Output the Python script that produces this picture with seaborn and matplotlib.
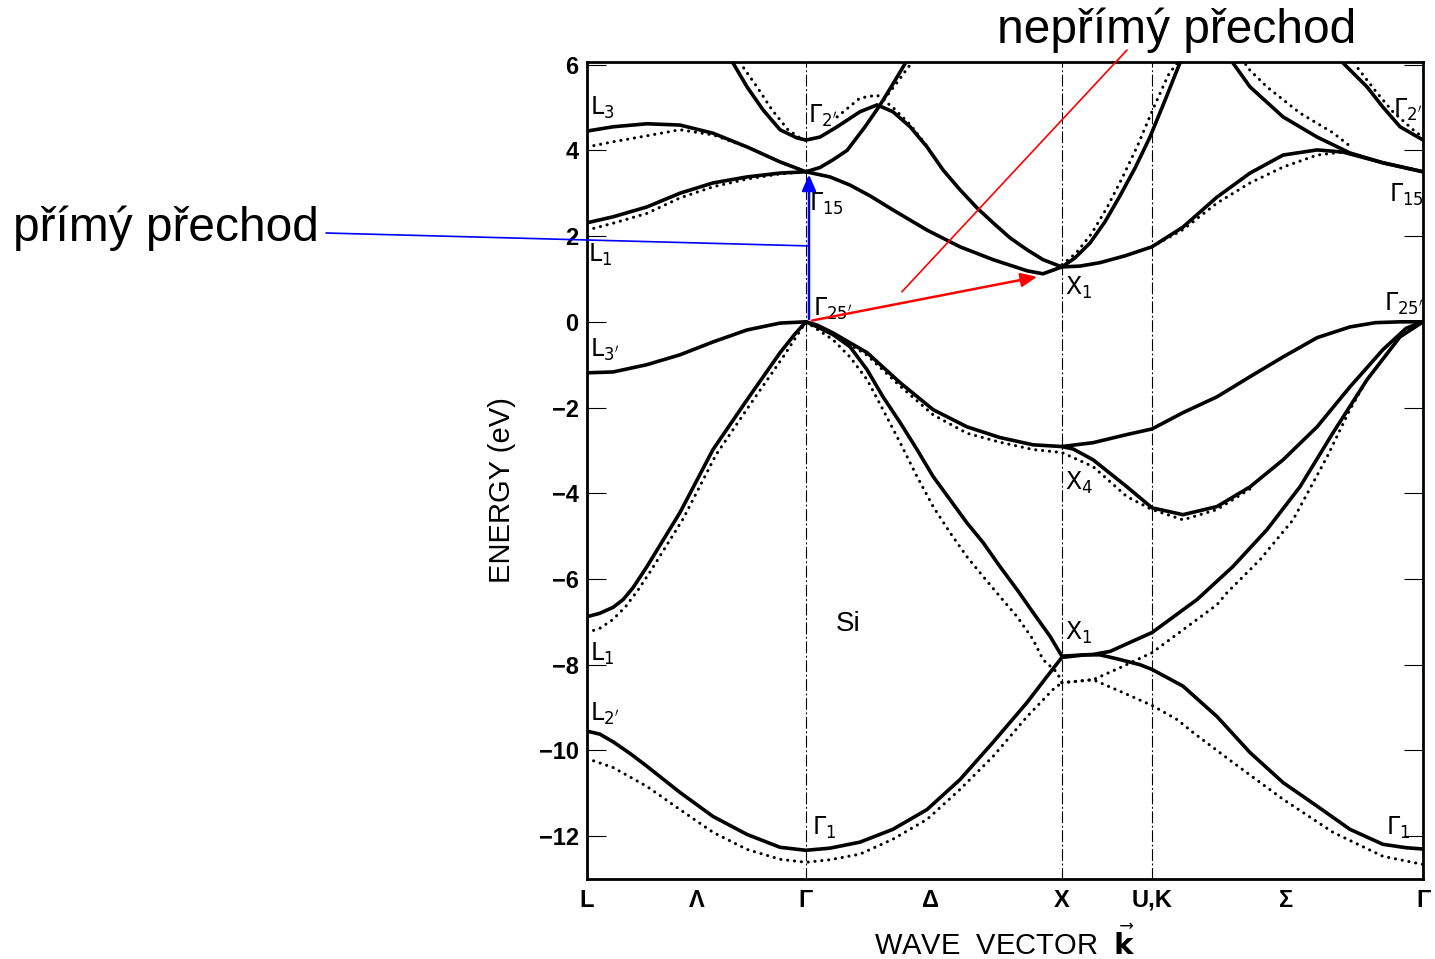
import numpy as np
import pandas as pd
import matplotlib
matplotlib.use("Agg")
import matplotlib.pyplot as plt
import seaborn as sns

sns.set_theme(style="ticks")
plt.rcParams["font.family"] = ["Liberation Sans", "DejaVu Sans"]
plt.rcParams.update({"text.color": "black", "axes.labelcolor": "black",
                     "xtick.color": "black", "ytick.color": "black",
                     "lines.dash_capstyle": "round", "lines.solid_capstyle": "round",
                     "lines.solid_joinstyle": "round"})

# ─── symmetry points along the k path (L - Γ - X - U,K - Γ) ───────
K_L, K_G, K_X, K_UK, K_G2 = 0.0, 0.855, 1.855, 2.207, 3.266
sym_pos = [0.0, 0.43, 0.855, 1.34, 1.855, 2.207, 2.73, 3.266]
sym_lab = ["L", "Λ", "Γ", "Δ", "X", "U,K", "Σ", "Γ"]

# ─── solid bands (k, energy in eV) ───────────────────────────────
low_k = [0, 0.05, 0.102, 0.17, 0.234, 0.363, 0.492, 0.625, 0.754, 0.855, 0.949, 1.066,
         1.195, 1.328, 1.457, 1.586, 1.719, 1.80, 1.855]
low_E = [-9.55, -9.62, -9.8, -10.08, -10.37, -10.98, -11.54, -11.96, -12.26, -12.33,
         -12.28, -12.14, -11.84, -11.38, -10.68, -9.81, -8.88, -8.25, -7.83]

low2_k = [1.855, 1.945, 2.004, 2.082, 2.160, 2.207, 2.328, 2.461, 2.590, 2.719, 2.852,
          2.980, 3.109, 3.20, 3.266]
low2_E = [-7.83, -7.77, -7.77, -7.88, -8.0, -8.11, -8.5, -9.21, -10.05, -10.75, -11.3,
          -11.84, -12.19, -12.27, -12.3]

val3_k = [0, 0.05, 0.102, 0.141, 0.18, 0.234, 0.363, 0.492, 0.625, 0.754, 0.81, 0.855,
          0.90, 0.961, 1.027, 1.094, 1.156, 1.223, 1.289, 1.352, 1.418, 1.484, 1.547,
          1.613, 1.680, 1.742, 1.809, 1.855, 1.977, 2.043, 2.121, 2.207, 2.383, 2.523,
          2.656, 2.785, 2.914, 3.047, 3.176, 3.266]
val3_E = [-6.88, -6.8, -6.66, -6.48, -6.2, -5.71, -4.45, -2.98, -1.82, -0.72, -0.3, 0.0,
          -0.12, -0.3, -0.58, -1.12, -1.75, -2.35, -2.98, -3.61, -4.15, -4.69, -5.15,
          -5.71, -6.25, -6.78, -7.34, -7.8, -7.76, -7.69, -7.48, -7.25, -6.48, -5.71,
          -4.85, -3.85, -2.59, -1.35, -0.35, 0.0]

val2_k = [0, 0.102, 0.234, 0.363, 0.492, 0.625, 0.754, 0.855, 0.90, 0.961, 1.094,
          1.223, 1.352, 1.484, 1.613, 1.742, 1.855, 1.90, 1.977, 2.109, 2.207, 2.328,
          2.461, 2.590, 2.719, 2.852, 2.980, 3.109, 3.20, 3.266]
val2_E = [-1.19, -1.17, -1.0, -0.77, -0.47, -0.19, -0.03, 0.0, -0.08, -0.26, -0.72,
          -1.42, -2.05, -2.45, -2.7, -2.87, -2.91, -2.97, -3.22, -3.85, -4.34, -4.5,
          -4.31, -3.85, -3.22, -2.45, -1.52, -0.65, -0.15, 0.0]

val1_k = [1.855, 1.977, 2.109, 2.207, 2.328, 2.461, 2.590, 2.719, 2.852, 2.980, 3.08,
          3.18, 3.266]
val1_E = [-2.91, -2.82, -2.63, -2.5, -2.12, -1.75, -1.28, -0.82, -0.37, -0.12, -0.02,
          0.0, 0.0]

con1_k = [0, 0.102, 0.234, 0.363, 0.492, 0.625, 0.754, 0.855, 0.949, 1.027, 1.105,
          1.195, 1.328, 1.457, 1.586, 1.719, 1.781, 1.855, 1.926, 2.004, 2.102, 2.207,
          2.328, 2.461, 2.590, 2.719, 2.852, 2.953, 3.109, 3.266]
con1_E = [2.31, 2.45, 2.68, 3.0, 3.24, 3.38, 3.47, 3.5, 3.38, 3.19, 2.94,
          2.61, 2.14, 1.75, 1.45, 1.19, 1.12, 1.28, 1.3, 1.38, 1.54, 1.75,
          2.21, 2.91, 3.47, 3.89, 4.01, 3.96, 3.71, 3.5]

con2_k = [0, 0.102, 0.234, 0.363, 0.492, 0.625, 0.754, 0.855, 0.910, 0.961, 1.016,
          1.086, 1.145, 1.195, 1.250, 1.29]
con2_E = [4.45, 4.55, 4.62, 4.59, 4.4, 4.08, 3.73, 3.5, 3.6, 3.78, 4.0,
          4.55, 5.06, 5.55, 6.1, 6.6]

con3_k = [0.539, 0.570, 0.625, 0.688, 0.754, 0.820, 0.855, 0.910, 0.977, 1.066, 1.133,
          1.195, 1.262, 1.328, 1.391, 1.457, 1.523, 1.586, 1.652, 1.719, 1.781, 1.855]
con3_E = [6.5, 6.04, 5.48, 4.94, 4.48, 4.29, 4.24, 4.31, 4.55, 4.9, 5.06,
          4.9, 4.55, 4.08, 3.54, 3.08, 2.66, 2.31, 1.96, 1.68, 1.45, 1.28]

con4_k = [1.855, 1.906, 1.965, 2.023, 2.082, 2.141, 2.199, 2.258, 2.316, 2.336]
con4_E = [1.28, 1.49, 1.84, 2.33, 2.94, 3.59, 4.31, 5.17, 6.04, 6.4]

con5_k = [2.492, 2.523, 2.590, 2.719, 2.852, 2.980, 3.109, 3.266]
con5_E = [6.5, 6.04, 5.48, 4.78, 4.31, 3.94, 3.71, 3.5]

con6_k = [2.922, 2.953, 3.047, 3.109, 3.176, 3.266]
con6_E = [6.4, 6.04, 5.48, 5.01, 4.55, 4.24]

# ─── dotted bands (second calculation) ───────────────────────────
d_low_k = [0, 0.102, 0.234, 0.363, 0.492, 0.625, 0.754, 0.855, 0.949, 1.066, 1.195,
           1.328, 1.457, 1.586, 1.719, 1.820, 1.855]
d_low_E = [-10.19, -10.4, -10.84, -11.38, -11.91, -12.31, -12.54, -12.61, -12.55, -12.42,
           -12.07, -11.61, -10.91, -10.14, -9.21, -8.58, -8.42]

d_low2_k = [1.855, 1.977, 2.082, 2.207, 2.305, 2.367, 2.523, 2.719, 2.914, 3.109, 3.266]
d_low2_E = [-8.42, -8.35, -8.62, -8.95, -9.28, -9.58, -10.28, -11.14, -11.91, -12.47, -12.66]

d_val3_k = [0, 0.05, 0.10, 0.15, 0.20, 0.25, 0.375, 0.504, 0.637, 0.766, 0.855, 0.961,
            1.027, 1.094, 1.156, 1.223, 1.289, 1.352, 1.418, 1.484, 1.547, 1.613, 1.680,
            1.742, 1.781, 1.836, 1.855, 1.977, 2.082, 2.207, 2.461, 2.500, 2.629, 2.758,
            2.891, 2.980, 3.047, 3.176, 3.266]
d_val3_E = [-7.25, -7.15, -6.95, -6.65, -6.25, -5.8, -4.6, -3.1, -1.93, -0.82, 0.0, -0.42,
            -0.82, -1.35, -2.05, -2.82, -3.61, -4.31, -4.92, -5.48, -5.94, -6.41, -6.88,
            -7.41, -7.88, -8.18, -8.42, -8.35, -8.07, -7.72, -6.6, -6.32, -5.55, -4.62,
            -3.15, -2.05, -1.35, -0.35, 0.0]

d_val2_k = [0.855, 0.961, 1.094, 1.223, 1.352, 1.484, 1.613, 1.742, 1.855, 1.977,
            2.109, 2.207, 2.328, 2.461, 2.590]
d_val2_E = [0.0, -0.28, -0.78, -1.5, -2.17, -2.6, -2.81, -2.98, -3.05, -3.38,
            -4.08, -4.38, -4.62, -4.38, -3.9]

d_con1_k = [0, 0.102, 0.234, 0.363, 0.492, 0.625, 0.754, 0.855]
d_con1_E = [2.14, 2.3, 2.53, 2.89, 3.15, 3.33, 3.45, 3.5]

d_con1b_k = [2.207, 2.328, 2.461, 2.590, 2.719, 2.852, 2.953]
d_con1b_E = [1.75, 2.15, 2.77, 3.24, 3.61, 3.89, 3.96]

d_con2_k = [0, 0.102, 0.234, 0.363, 0.492, 0.625, 0.754, 0.855]
d_con2_E = [4.08, 4.2, 4.34, 4.48, 4.36, 4.08, 3.73, 3.5]

d_con3_k = [0.565, 0.598, 0.664, 0.723, 0.785, 0.832, 0.855]
d_con3_E = [6.5, 6.04, 5.48, 4.94, 4.48, 4.29, 4.24]

d_con3b_k = [0.977, 1.066, 1.133, 1.195, 1.262, 1.328]
d_con3b_E = [4.78, 5.22, 5.29, 5.0, 4.6, 4.1]

d_con2b_k = [1.145, 1.203, 1.270, 1.30]
d_con2b_E = [5.06, 5.52, 6.06, 6.5]

d_con4_k = [1.855, 1.91, 1.97, 2.03, 2.09, 2.15, 2.21, 2.27, 2.305, 2.32]
d_con4_E = [1.33, 1.6, 2.05, 2.65, 3.35, 4.1, 4.95, 5.75, 6.04, 6.3]

d_con5_k = [2.551, 2.578, 2.656, 2.785, 2.914, 2.980]
d_con5_E = [6.3, 5.94, 5.48, 4.87, 4.41, 4.1]

d_con6_k = [2.99, 3.008, 3.086, 3.148, 3.227, 3.266]
d_con6_E = [6.2, 5.94, 5.34, 4.9, 4.48, 4.3]

solid = {"low": (low_k, low_E), "low2": (low2_k, low2_E), "val3": (val3_k, val3_E),
         "val2": (val2_k, val2_E), "val1": (val1_k, val1_E), "con1": (con1_k, con1_E),
         "con2": (con2_k, con2_E), "con3": (con3_k, con3_E), "con4": (con4_k, con4_E),
         "con5": (con5_k, con5_E), "con6": (con6_k, con6_E)}
dotted = {"d_low": (d_low_k, d_low_E), "d_low2": (d_low2_k, d_low2_E),
          "d_val3": (d_val3_k, d_val3_E), "d_val2": (d_val2_k, d_val2_E),
          "d_con1": (d_con1_k, d_con1_E), "d_con1b": (d_con1b_k, d_con1b_E),
          "d_con2": (d_con2_k, d_con2_E), "d_con3": (d_con3_k, d_con3_E),
          "d_con3b": (d_con3b_k, d_con3b_E), "d_con2b": (d_con2b_k, d_con2b_E),
          "d_con4": (d_con4_k, d_con4_E), "d_con5": (d_con5_k, d_con5_E),
          "d_con6": (d_con6_k, d_con6_E)}


def to_frame(bands, kind):
    rows = []
    for name, (ks, es) in bands.items():
        for k, e in zip(ks, es):
            rows.append({"k": k, "E": e, "band": name, "kind": kind})
    return pd.DataFrame(rows)


df_solid = to_frame(solid, "solid")
df_dot = to_frame(dotted, "dotted")

fig = plt.figure(figsize=(14.35, 9.59), dpi=100)
ax = fig.add_axes([0.4091, 0.0834, 0.5826, 0.8519])

sns.lineplot(data=df_dot, x="k", y="E", units="band", estimator=None, style="kind",
             dashes={"dotted": (0.05, 2.2)}, color="black", linewidth=2.2,
             legend=False, ax=ax)
sns.lineplot(data=df_solid, x="k", y="E", units="band", estimator=None,
             color="black", linewidth=2.6, legend=False, ax=ax)

for xv in [K_G, K_X, K_UK]:
    ax.axvline(xv, color="black", lw=0.8, ls=(0, (10, 3, 1, 3)), zorder=0)

ax.set_xlim(K_L, K_G2)
ax.set_ylim(-13.0, 6.06)
ax.set_yticks(range(-12, 7, 2))
ax.set_yticklabels([str(v).replace("-", "\u2212") for v in range(-12, 7, 2)],
                   fontsize=17, fontweight="bold")
ax.set_xticks(sym_pos)
ax.set_xticklabels(sym_lab, fontsize=17, fontweight="bold")
ax.tick_params(axis="x", length=0, pad=7)
ax.tick_params(axis="y", direction="in", length=14, width=0.8, right=True, pad=6)
for s in ax.spines.values():
    s.set_linewidth(2.0)
    s.set_color("black")

ax.set_xlabel(r"WAVE  VECTOR  $\vec{\mathbf{k}}$", fontsize=21, labelpad=10)
ax.set_ylabel("ENERGY (eV)", fontsize=21)
ax.yaxis.set_label_coords(-0.085, 0.476)

# band labels
lab_fs = 17
labels = [
    (0.06, 5.0, r"$\mathrm{L_3}$"), (0.05, 1.55, r"$\mathrm{L_1}$"),
    (0.07, -0.65, r"$\mathrm{L_{3'}}$"), (0.06, -7.75, r"$\mathrm{L_1}$"),
    (0.07, -9.15, r"$\mathrm{L_{2'}}$"),
    (0.92, 4.8, r"$\Gamma_{2'}$"), (0.935, 2.75, r"$\Gamma_{15}$"),
    (0.96, 0.3, r"$\Gamma_{25'}$"), (0.925, -11.8, r"$\Gamma_1$"),
    (1.92, 0.8, r"$\mathrm{X_1}$"), (1.92, -3.75, r"$\mathrm{X_4}$"),
    (1.92, -7.25, r"$\mathrm{X_1}$"),
    (3.205, 4.95, r"$\Gamma_{2'}$"), (3.2, 2.95, r"$\Gamma_{15}$"),
    (3.19, 0.42, r"$\Gamma_{25'}$"), (3.17, -11.8, r"$\Gamma_1$"),
]
for x, y, t in labels:
    ax.text(x, y, t, fontsize=lab_fs, ha="center", va="center")
ax.text(1.02, -7.05, "Si", fontsize=20, ha="center", va="center")

# transitions
ax.annotate("", xy=(0.867, 3.5), xytext=(0.867, 0.0),
            arrowprops=dict(arrowstyle="-|>,head_width=0.35,head_length=0.8",
                            color="blue", lw=1.8))
ax.annotate("", xy=(0.867, 1.77), xytext=(326, 959 - 233), textcoords="figure pixels",
            arrowprops=dict(arrowstyle="-", color="blue", lw=1.2,
                            shrinkA=0, shrinkB=0), annotation_clip=False)
ax.annotate("", xy=(1.758, 1.05), xytext=(0.879, 0.03),
            arrowprops=dict(arrowstyle="-|>,head_width=0.35,head_length=0.8",
                            color="red", lw=1.8, shrinkA=0, shrinkB=0))
ax.annotate("", xy=(1.23, 0.7), xytext=(1127, 959 - 50), textcoords="figure pixels",
            arrowprops=dict(arrowstyle="-", color="red", lw=1.2,
                            shrinkA=0, shrinkB=0), annotation_clip=False)

fig.text(13 / 1435, 1 - 228 / 959, "přímý přechod", fontsize=34.5, ha="left", va="center")
fig.text(997 / 1435, 1 - 30 / 959, "nepřímý přechod", fontsize=34.5, ha="left",
         va="center")

fig.savefig("out.png", dpi=100)
